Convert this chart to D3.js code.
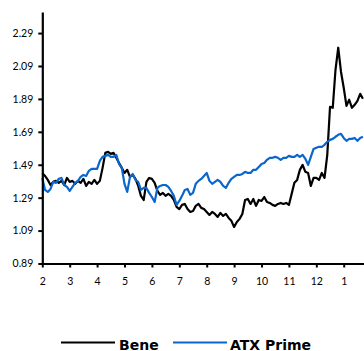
<!DOCTYPE html>
<html>
<head>
<meta charset="utf-8">
<script src="https://cdn.jsdelivr.net/npm/d3@7"></script>
<style>
  html, body { margin: 0; padding: 0; background: #fff; }
  svg { display: block; }
  text { font-family: "Lato", "DejaVu Sans", sans-serif; }
</style>
</head>
<body>
<script>
// Month labels along the x axis (one tick per month, Feb .. Jan)
const monthLabels = ["2", "3", "4", "5", "6", "7", "8", "9", "10", "11", "12", "1"];

// Y axis tick values
const yTicks = [0.89, 1.09, 1.29, 1.49, 1.69, 1.89, 2.09, 2.29];

// Observations every tenth of a month, starting at the first tick
const step = 0.1;

const bene = [
  1.439, 1.422, 1.398, 1.367, 1.386, 1.392, 1.380, 1.392, 1.367, 1.410,
  1.386, 1.392, 1.374, 1.392, 1.380, 1.404, 1.361, 1.386, 1.374, 1.398,
  1.374, 1.392, 1.471, 1.562, 1.568, 1.556, 1.562, 1.532, 1.501, 1.471,
  1.440, 1.459, 1.416, 1.428, 1.404, 1.361, 1.301, 1.276, 1.386, 1.410,
  1.404, 1.380, 1.331, 1.307, 1.319, 1.301, 1.313, 1.301, 1.276, 1.234,
  1.221, 1.246, 1.252, 1.221, 1.203, 1.209, 1.240, 1.252, 1.228, 1.221,
  1.203, 1.185, 1.203, 1.191, 1.173, 1.197, 1.179, 1.191, 1.167, 1.149,
  1.112, 1.142, 1.161, 1.191, 1.276, 1.282, 1.252, 1.282, 1.240, 1.276,
  1.270, 1.294, 1.264, 1.258, 1.246, 1.240, 1.252, 1.258, 1.252, 1.258,
  1.246, 1.313, 1.380, 1.398, 1.459, 1.489, 1.447, 1.440, 1.361, 1.410,
  1.410, 1.398, 1.440, 1.410, 1.550, 1.842, 1.836, 2.067, 2.201, 2.055,
  1.958, 1.848, 1.885, 1.836, 1.854, 1.878, 1.921, 1.891
];

const atxPrime = [
  1.410, 1.337, 1.325, 1.343, 1.386, 1.380, 1.404, 1.410, 1.367, 1.355,
  1.331, 1.355, 1.380, 1.392, 1.416, 1.428, 1.422, 1.453, 1.465, 1.465,
  1.465, 1.514, 1.538, 1.544, 1.550, 1.538, 1.538, 1.550, 1.495, 1.471,
  1.374, 1.325, 1.416, 1.434, 1.398, 1.386, 1.337, 1.349, 1.349, 1.319,
  1.294, 1.264, 1.349, 1.361, 1.367, 1.367, 1.355, 1.331, 1.301, 1.246,
  1.270, 1.301, 1.337, 1.343, 1.307, 1.319, 1.374, 1.392, 1.404, 1.422,
  1.440, 1.392, 1.374, 1.386, 1.398, 1.386, 1.361, 1.349, 1.380, 1.404,
  1.416, 1.428, 1.428, 1.434, 1.447, 1.440, 1.440, 1.459, 1.459, 1.477,
  1.495, 1.501, 1.520, 1.532, 1.532, 1.538, 1.532, 1.520, 1.532, 1.532,
  1.544, 1.538, 1.538, 1.550, 1.538, 1.550, 1.526, 1.489, 1.538, 1.586,
  1.593, 1.599, 1.599, 1.611, 1.629, 1.641, 1.647, 1.660, 1.672, 1.678,
  1.653, 1.635, 1.647, 1.647, 1.653, 1.635, 1.653, 1.660
];

const seriesNames = ["Bene", "ATX Prime"];
const seriesColors = ["#000000", "#0a66cc"];

const W = 364, H = 351;
const svg = d3.select("body").append("svg")
  .attr("width", W).attr("height", H);

const x = d3.scaleLinear().domain([0, 11.74]).range([42.3, 364]);
const y = d3.scaleLinear().domain([0.89, 2.418]).range([263.5, 12]);

// Series lines
const line = d3.line()
  .x((d, i) => x(i * step))
  .y(d => y(d));

[bene, atxPrime].forEach((vals, k) => {
  svg.append("path")
    .datum(vals)
    .attr("fill", "none")
    .attr("stroke", seriesColors[k])
    .attr("stroke-width", 2.2)
    .attr("stroke-linejoin", "round")
    .attr("d", line);
});

// Y axis
const yAxis = svg.append("g")
  .attr("transform", `translate(${x(0)},0)`)
  .call(d3.axisLeft(y).tickValues(yTicks).tickFormat(d3.format(".2f"))
    .tickSize(4).tickSizeOuter(0));
yAxis.select(".domain").attr("stroke-width", 2.2);
yAxis.selectAll(".tick line").attr("stroke-width", 2);
yAxis.selectAll(".tick text")
  .attr("x", -9)
  .style("font-size", "10.5px")
  .attr("fill", "#000");

// X axis
const xAxis = svg.append("g")
  .attr("transform", `translate(0,${y(0.89)})`)
  .call(d3.axisBottom(x).tickValues(d3.range(monthLabels.length))
    .tickFormat(i => monthLabels[i]).tickSize(4).tickSizeOuter(0));
xAxis.select(".domain").attr("stroke-width", 2.2);
xAxis.selectAll(".tick line").attr("stroke-width", 2);
xAxis.selectAll(".tick text")
  .attr("y", 14)
  .style("font-size", "10.5px")
  .attr("fill", "#000");

// Legend
const legend = svg.append("g");
const legendItems = [
  { x1: 61, x2: 115, tx: 119 },
  { x1: 173, x2: 227, tx: 230 }
];
legendItems.forEach((it, k) => {
  legend.append("line")
    .attr("x1", it.x1).attr("x2", it.x2)
    .attr("y1", 342.5).attr("y2", 342.5)
    .attr("stroke", seriesColors[k])
    .attr("stroke-width", 2.2);
  legend.append("text")
    .attr("x", it.tx).attr("y", 349.5)
    .style("font-family", "'DejaVu Sans', sans-serif")
    .style("font-size", "14px")
    .style("font-weight", "bold")
    .attr("fill", "#000")
    .text(seriesNames[k]);
});
</script>
</body>
</html>
